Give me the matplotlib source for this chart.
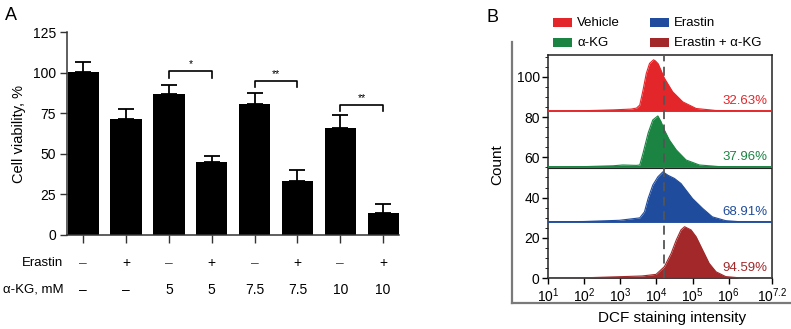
import numpy as np
import matplotlib
matplotlib.use("Agg")
from matplotlib import pyplot as plt
from matplotlib.patches import Rectangle
from matplotlib.lines import Line2D
from matplotlib.ticker import MultipleLocator, LogLocator, NullFormatter

plt.rcParams['font.family'] = ['Liberation Sans', 'DejaVu Sans']
plt.rcParams['mathtext.fontset'] = 'custom'
plt.rcParams['mathtext.rm'] = 'Liberation Sans'
plt.rcParams['mathtext.it'] = 'Liberation Sans'

# ---- panel A data
viability = [100.5, 71.8, 87.2, 44.8, 80.7, 33.3, 66.1, 13.7]
viab_err = [6.2, 5.8, 5.6, 4.0, 7.0, 7.0, 8.2, 5.4]
erastin_row = ['–', '+', '–', '+', '–', '+', '–', '+']
akg_row = ['–', '–', '5', '5', '7.5', '7.5', '10', '10']
# (left bar, right bar, bracket height, leg bottom, label)
sig_pairs = [(2, 3, 101.4, 97.0, '*'), (4, 5, 95.0, 91.0, '**'), (6, 7, 80.4, 76.3, '**')]

# ---- panel B data: log10(intensity) vs count above each baseline
veh_lx = [1.0, 2.0, 2.8, 3.3, 3.45, 3.54, 3.63, 3.72, 3.81, 3.92, 3.97, 4.05, 4.22, 4.45, 4.73, 5.1, 5.65, 7.2]
veh_ct = [0, 0.2, 0.6, 1.0, 1.5, 3.0, 10.4, 18.7, 23.7, 25.5, 25.0, 23.5, 16.4, 9.6, 4.6, 1.3, 0.3, 0]
akg_lx = [1.0, 2.0, 2.8, 3.07, 3.45, 3.54, 3.63, 3.77, 3.9, 4.04, 4.13, 4.22, 4.36, 4.55, 4.82, 5.19, 5.74, 7.2]
akg_ct = [0, 0.2, 0.6, 1.0, 0.8, 1.0, 6.8, 16.8, 23.4, 25.4, 22.5, 18.4, 13.4, 8.5, 3.5, 1.0, 0.2, 0]
era_lx = [1.0, 2.0, 2.98, 3.54, 3.67, 3.77, 3.9, 4.04, 4.18, 4.32, 4.5, 4.68, 4.82, 5.0, 5.28, 5.55, 5.92, 6.3, 7.2]
era_ct = [0, 0.2, 0.8, 2.0, 5.0, 11.6, 18.3, 22.4, 24.9, 23.2, 21.6, 19.1, 15.8, 11.6, 6.7, 2.5, 0.6, 0.1, 0]
com_lx = [1.0, 2.0, 3.08, 3.6, 3.99, 4.22, 4.41, 4.55, 4.68, 4.78, 4.96, 5.1, 5.28, 5.46, 5.65, 5.92, 6.3, 7.2]
com_ct = [0, 0.1, 0.7, 1.0, 1.8, 5.6, 12.3, 18.9, 23.9, 25.5, 23.9, 20.5, 13.9, 7.3, 3.1, 0.7, 0.1, 0]
groups = ['Vehicle', 'α-KG', 'Erastin', 'Erastin + α-KG']
percents = ['32.63%', '37.96%', '68.91%', '94.59%']
gate_log = 4.22

colors = ['#E3262A', '#1B8442', '#1F4C9C', '#A2282A']
offsets = [83.0, 55.2, 27.9, 0.0]

W, H = 791, 329
fig = plt.figure(figsize=(W / 100, H / 100), dpi=100)

def fx(px): return px / W
def fy(py): return 1 - py / H

# ================= panel A
axA = fig.add_axes([fx(67), fy(235), fx(399) - fx(67), fy(32.3) - fy(235)])
x = np.arange(len(viability))
axA.bar(x, viability, width=0.73, color='black')
axA.errorbar(x, viability, yerr=[np.zeros(len(x)), viab_err], fmt='none',
             ecolor='black', elinewidth=1.3, capsize=5.5, capthick=1.3)
axA.set_xlim(-0.38, 7.37)
axA.set_ylim(0, 125)
axA.set_yticks([0, 25, 50, 75, 100, 125])
axA.set_xticks(x)
axA.set_xticklabels([])
axA.tick_params(axis='x', length=6, width=1, color='#333333')
axA.tick_params(axis='y', length=5, width=1, color='#333333', labelsize=10, pad=3)
for s in ['top', 'right']:
    axA.spines[s].set_visible(False)
for s in ['left', 'bottom']:
    axA.spines[s].set_linewidth(1.1)
    axA.spines[s].set_color('#333333')
axA.set_ylabel('Cell viability, %', fontsize=10.5, labelpad=5)

for a, b, h, leg, lab in sig_pairs:
    axA.plot([a, a, b, b], [leg, h, h, leg], color='black', lw=1.2)
    axA.text((a + b) / 2, h + 1.2, lab, ha='center', va='bottom', fontsize=7.5)

trA = matplotlib.transforms.blended_transform_factory(axA.transData, axA.transAxes)
for i in range(len(x)):
    axA.text(x[i], -0.138, erastin_row[i], transform=trA, ha='center', va='center',
             fontsize=10, color='#555555' if erastin_row[i] == '–' else 'black')
    axA.text(x[i], -0.271, akg_row[i], transform=trA, ha='center', va='center', fontsize=10)
fig.text(fx(63.5), fy(263), 'Erastin', ha='right', va='center', fontsize=9.5)
fig.text(fx(63.5), fy(290), 'α-KG, mM', ha='right', va='center', fontsize=9.5)
fig.text(fx(5), fy(15), 'A', ha='left', va='center', fontsize=13)

# ================= panel B
axB = fig.add_axes([fx(548), fy(278), fx(772) - fx(548), fy(55) - fy(278)])
axB.set_xscale('log')
for lx, ct, col, off in zip([com_lx, era_lx, akg_lx, veh_lx],
                            [com_ct, era_ct, akg_ct, veh_ct],
                            colors[::-1], offsets[::-1]):
    xs = 10 ** np.array(lx)
    ys = off + np.array(ct)
    axB.fill_between(xs, off, ys, color=col, lw=0, zorder=2)
    axB.plot(xs, ys, color=col, lw=0.8, zorder=3)
    axB.axhline(off, color=col, lw=1.3, zorder=3)
axB.axhline(offsets[1] - 0.6, color='#222222', lw=0.8, zorder=1)
axB.axvline(10 ** gate_log, color='#555555', lw=1.3, ls=(0, (5, 3)), zorder=4)

for i in range(4):
    axB.text(10 ** 7.08, offsets[i] + 5.0, percents[i], color=colors[i],
             ha='right', va='center', fontsize=9.5)

axB.set_xlim(10 ** 1, 10 ** 7.2)
axB.set_ylim(0, 110.9)
xt = [10 ** 1, 10 ** 2, 10 ** 3, 10 ** 4, 10 ** 5, 10 ** 6, 10 ** 7.2]
axB.set_xticks(xt)
axB.set_xticklabels(['$10^{1}$', '$10^{2}$', '$10^{3}$', '$10^{4}$', '$10^{5}$', '$10^{6}$', '$10^{7.2}$'])
axB.xaxis.set_minor_locator(LogLocator(base=10, subs=np.arange(2, 10)))
axB.xaxis.set_minor_formatter(NullFormatter())
axB.set_yticks([0, 20, 40, 60, 80, 100])
axB.yaxis.set_minor_locator(MultipleLocator(5))
axB.tick_params(axis='both', which='major', length=4, width=1, labelsize=10, pad=2)
axB.tick_params(axis='both', which='minor', length=2, width=0.6)
axB.tick_params(axis='y', right=False)
for s in axB.spines.values():
    s.set_linewidth(1.1)
    s.set_color('#222222')

# outer gray frame
fig.add_artist(Line2D([fx(512), fx(512)], [fy(42), fy(303)], color='#7a7a7a', lw=1.6))
fig.add_artist(Line2D([fx(512), fx(791)], [fy(303), fy(303)], color='#7a7a7a', lw=1.6))

fig.text(fx(497), fy(165), 'Count', rotation=90, ha='center', va='center', fontsize=11)
fig.text(fx(672), fy(318), 'DCF staining intensity', ha='center', va='center', fontsize=11)
fig.text(fx(486), fy(18), 'B', ha='left', va='center', fontsize=13)

# legend
leg_pos = [(553, 18), (553, 38), (650, 18), (650, 38)]
leg_order = [0, 1, 2, 3]
for (lx, ly), gi in zip(leg_pos, leg_order):
    fig.add_artist(Rectangle((fx(lx), fy(ly + 9)), fx(19), 9 / H, color=colors[gi], lw=0))
    fig.text(fx(lx + 24), fy(ly + 4.5), groups[gi], ha='left', va='center', fontsize=9.5)

fig.savefig('out.png', dpi=100)
